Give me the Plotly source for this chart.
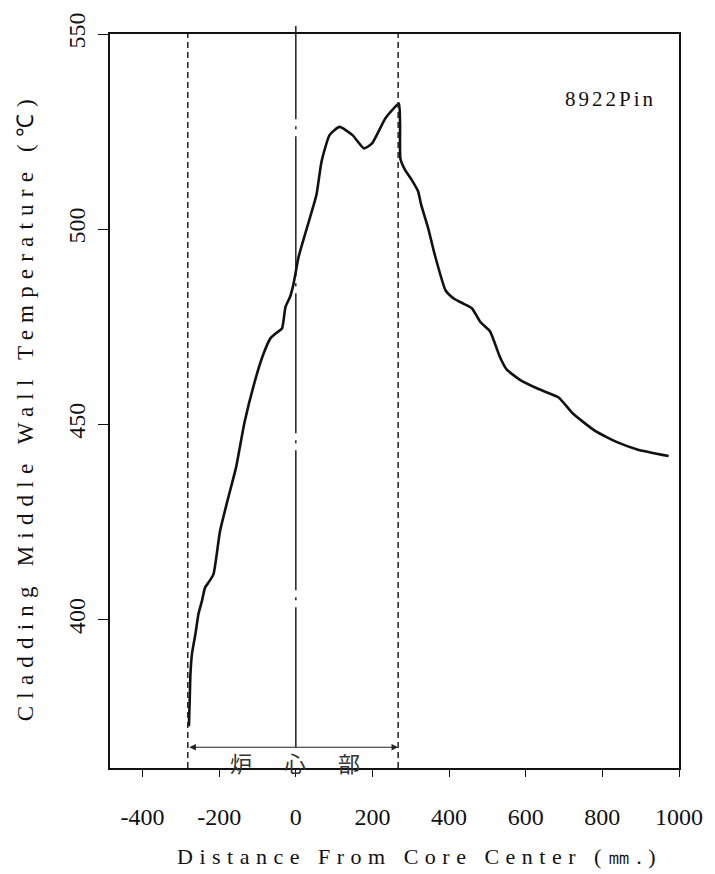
import plotly.graph_objects as go

# ---- data ----
dist_mm = [-279, -277, -275, -271, -262, -254, -245, -237, -228, -215, -198, -177, -156, -134,
           -108, -87, -66, -50, -36, -27, -15, -6, 7, 37, 54, 67, 88, 114, 148, 178, 199, 233,
           255, 269, 272, 273, 285, 302, 319, 327, 345, 362, 391, 413, 438, 460, 481, 507, 532,
           550, 584, 635, 686, 721, 780, 840, 891, 973]
temp_c = [372.7, 379.4, 386.2, 391.3, 396.4, 401.5, 404.8, 408.2, 409.5, 411.6, 422.6, 431.0, 439.0, 450.5,
          460.7, 467.4, 472.1, 473.5, 474.6, 480.1, 482.7, 486.0, 492.8, 503.0, 508.9, 517.3, 524.1, 526.2, 524.1, 520.7, 522.0, 528.3,
          530.9, 532.2, 527.0, 518.0, 515.2, 512.7, 509.7, 506.3, 500.4, 493.7, 484.3, 482.2, 480.9, 479.7, 476.3, 473.8, 467.4,
          464.1, 461.5, 459.0, 456.9, 453.0, 448.4, 445.4, 443.6, 441.9]

core_bounds_mm = [-282, 267]
center_mm = 0
x_ticks = [-400, -200, 0, 200, 400, 600, 800, 1000]
y_ticks = [400, 450, 500, 550]
x_range = [-485, 1000]
y_range = [362, 550]
arrow_temp = 367.3
core_text_temp = 363.6
pin_label = "8922Pin"
pin_label_pos = [822, 533.3]
core_label = "炉　心　部"
x_title = "Distance From Core Center (㎜.)"
y_title = "Cladding Middle Wall Temperature (℃)"

SERIF = "Liberation Serif, Times New Roman, serif"


def spaced(text, px):
    return '<span style="letter-spacing:%spx">%s</span>' % (px, text)


fig = go.Figure()
fig.add_trace(go.Scatter(x=dist_mm, y=temp_c, mode="lines",
                         line=dict(color="#111", width=2.6, shape="spline", smoothing=0.5),
                         showlegend=False, hoverinfo="skip"))

shapes = []
for xb in core_bounds_mm:
    shapes.append(dict(type="line", xref="x", yref="paper", x0=xb, x1=xb, y0=0, y1=1,
                       line=dict(color="#222", width=1.5, dash="6px,4px")))
# chain centre line: from the arrow up to slightly above the frame
arrow_frac = (arrow_temp - y_range[0]) / (y_range[1] - y_range[0])
shapes.append(dict(type="line", xref="x", yref="paper", x0=center_mm, x1=center_mm,
                   y0=arrow_frac, y1=1.011,
                   line=dict(color="#111", width=1.4, dash="140px,7px,3px,7px")))

annotations = [
    dict(x=core_bounds_mm[1], y=arrow_temp, ax=core_bounds_mm[0], ay=arrow_temp,
         xref="x", yref="y", axref="x", ayref="y", text="", showarrow=True,
         arrowhead=2, arrowside="end+start", arrowsize=1.2, arrowwidth=1.1,
         arrowcolor="#222", standoff=0, startstandoff=0),
    dict(x=center_mm + 5, y=core_text_temp, xref="x", yref="y", showarrow=False,
         text=spaced(core_label, 5), xanchor="center", yanchor="middle",
         font=dict(family="Noto Sans CJK JP", size=22, color="#333")),
    dict(x=pin_label_pos[0], y=pin_label_pos[1], xref="x", yref="y", showarrow=False,
         text=spaced(pin_label, 3), xanchor="center", yanchor="middle",
         font=dict(family=SERIF, size=21, color="#111")),
    # axis titles
    dict(x=0.544, y=-0.121, xref="paper", yref="paper", showarrow=False,
         text=spaced(x_title, 6.5), xanchor="center", yanchor="middle",
         font=dict(family=SERIF, size=22, color="#111")),
    dict(x=-0.147, y=0.492, xref="paper", yref="paper", showarrow=False, textangle=-90,
         text=spaced(y_title, 7.2), xanchor="center", yanchor="middle",
         font=dict(family=SERIF, size=23, color="#111")),
]

fig.update_layout(
    width=715, height=874,
    margin=dict(l=110, r=26, t=30, b=106),
    paper_bgcolor="white", plot_bgcolor="white",
    shapes=shapes, annotations=annotations,
    font=dict(family=SERIF, color="#111"),
)
fig.update_xaxes(range=x_range, tickvals=x_ticks, ticktext=[str(v) for v in x_ticks],
                 showgrid=False, zeroline=False, showline=True, mirror=True,
                 linecolor="#111", linewidth=1.6, ticks="outside", ticklen=7,
                 tickwidth=1.4, tickcolor="#111", ticklabelstandoff=19,
                 tickfont=dict(family=SERIF, size=24, color="#111"))
fig.update_yaxes(range=y_range, tickvals=y_ticks, ticktext=[str(v) for v in y_ticks],
                 showgrid=False, zeroline=False, showline=True, mirror=True,
                 linecolor="#111", linewidth=1.6, ticks="outside", ticklen=10,
                 tickwidth=1.4, tickcolor="#111", tickangle=-90, ticklabelstandoff=4,
                 tickfont=dict(family=SERIF, size=24, color="#111"))

fig.write_html("out.html")
